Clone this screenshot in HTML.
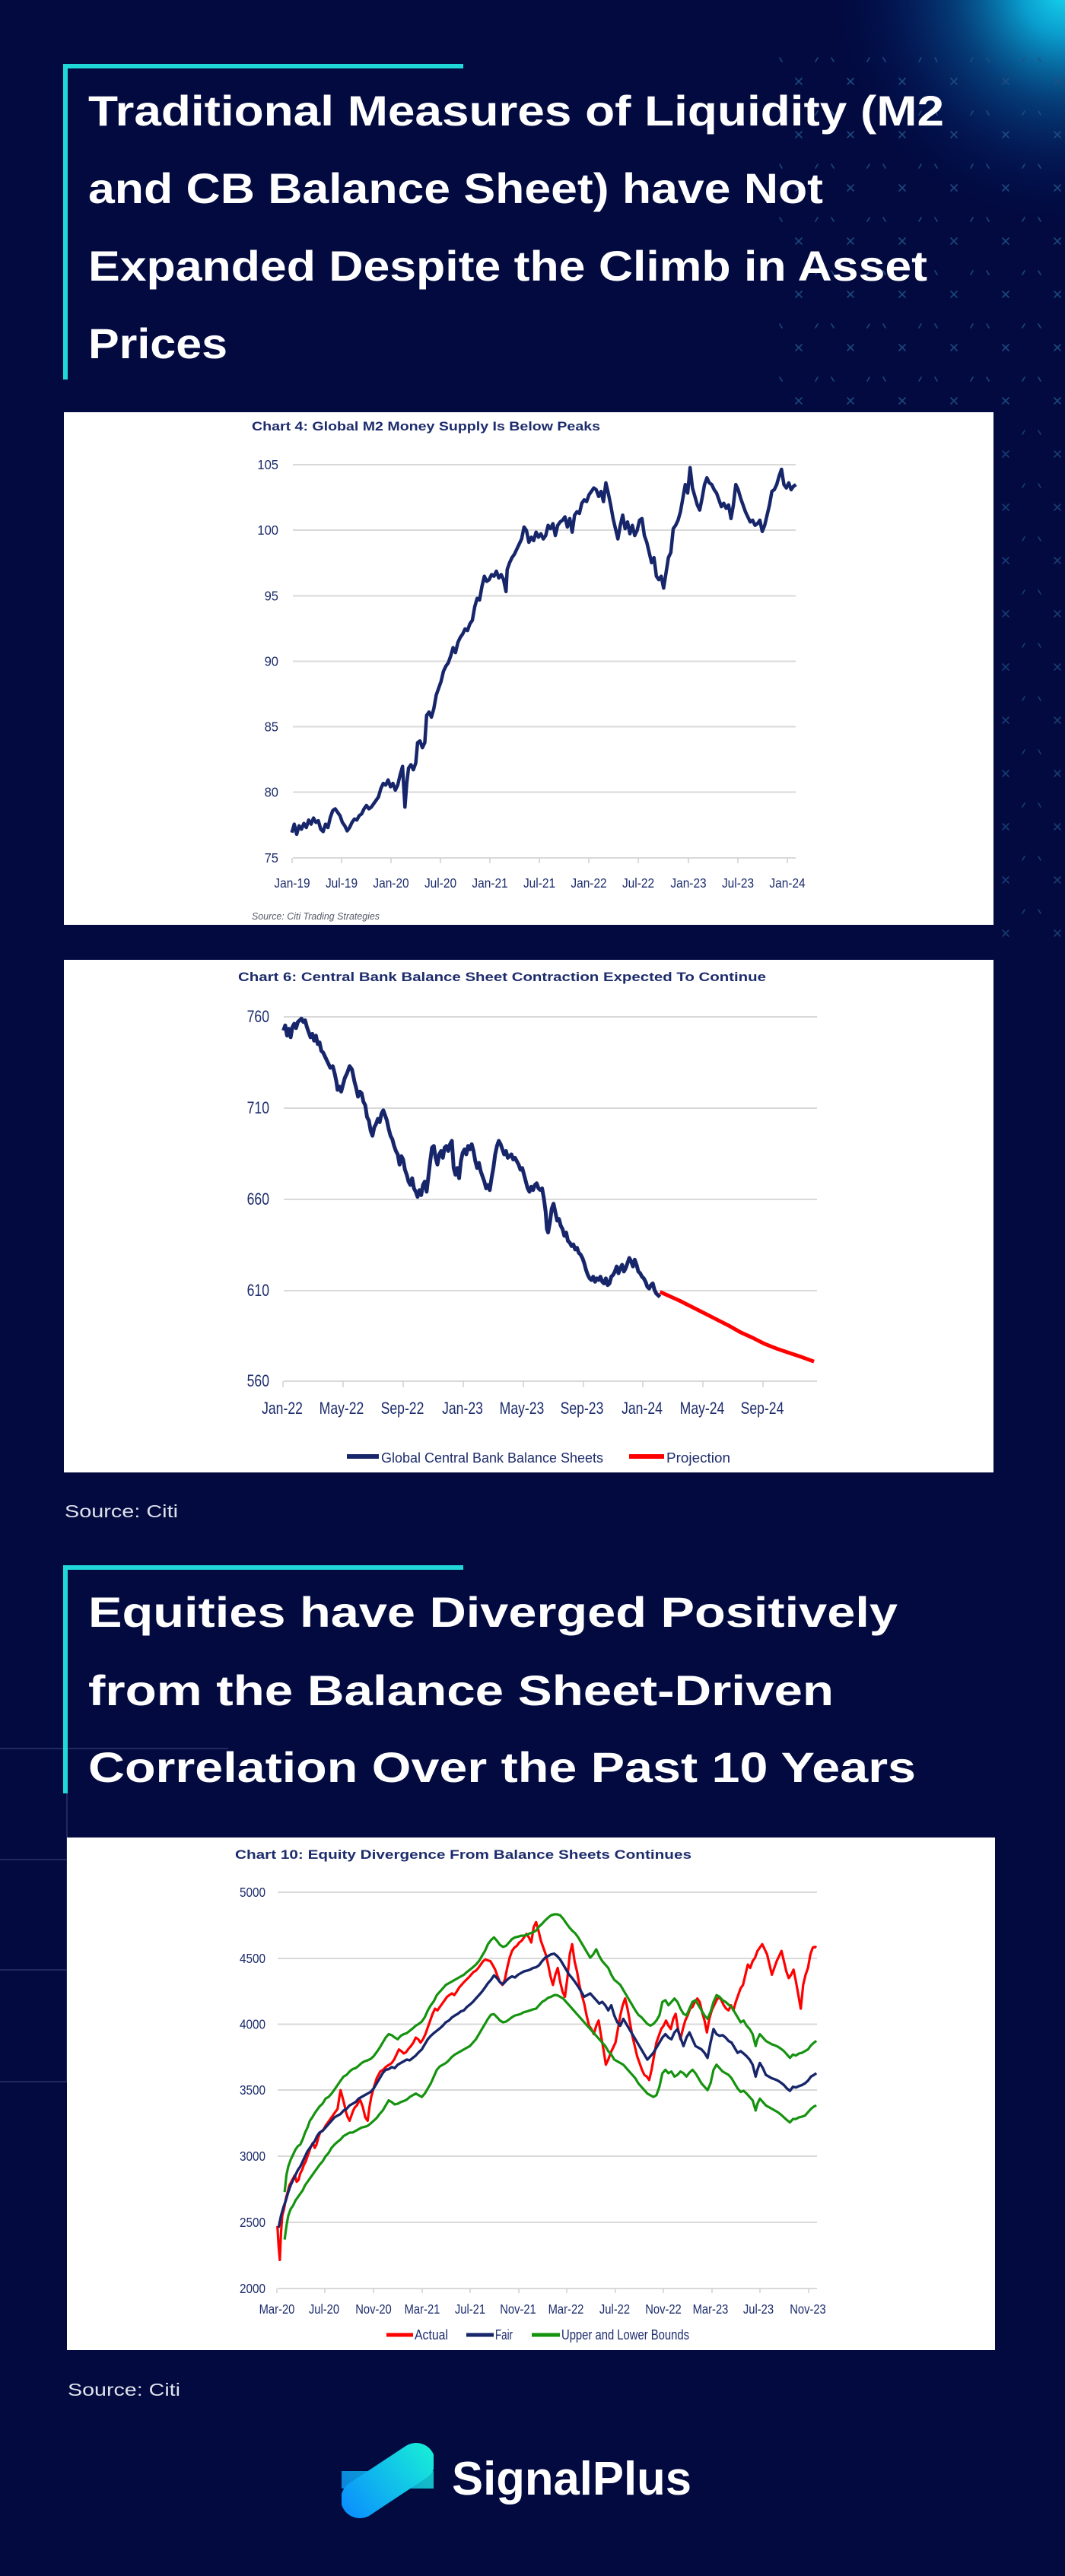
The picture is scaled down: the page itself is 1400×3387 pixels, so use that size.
<!DOCTYPE html>
<html>
<head>
<meta charset="utf-8">
<style>
html,body{margin:0;padding:0;background:#020a40;}
body{width:1400px;height:3387px;overflow:hidden;}
svg{display:block;}
.ttl{font-family:"Liberation Sans",sans-serif;font-weight:700;font-size:56px;fill:#ffffff;}
.ct{font-family:"Liberation Sans",sans-serif;font-weight:700;font-size:17px;fill:#1d2c6c;}
.ax{font-family:"Liberation Sans",sans-serif;font-size:18px;fill:#1d2c6c;}
.ax6{font-family:"Liberation Sans",sans-serif;font-size:22px;fill:#1d2c6c;}
.lg{font-family:"Liberation Sans",sans-serif;font-size:18px;fill:#1d2c6c;}
.src{font-family:"Liberation Sans",sans-serif;font-size:23px;fill:#dfe2ec;}
.grid{stroke:#d9d9d9;stroke-width:2;fill:none;}
.tick{stroke:#d0d0d0;stroke-width:1.5;}
</style>
</head>
<body>
<svg width="1400" height="3387" viewBox="0 0 1400 3387" xmlns="http://www.w3.org/2000/svg">
<defs>
  <radialGradient id="glow" cx="1400" cy="-10" r="320" gradientUnits="userSpaceOnUse">
    <stop offset="0" stop-color="#16d6f0" stop-opacity="1"/>
    <stop offset="0.18" stop-color="#0aa4d4" stop-opacity="0.95"/>
    <stop offset="0.45" stop-color="#07609e" stop-opacity="0.6"/>
    <stop offset="0.75" stop-color="#052a72" stop-opacity="0.25"/>
    <stop offset="1" stop-color="#020a40" stop-opacity="0"/>
  </radialGradient>
  <pattern id="pt" x="1016" y="72" width="68" height="70" patternUnits="userSpaceOnUse">
    <g stroke="#1f4f84" stroke-width="1.7" stroke-linecap="round" fill="none">
      <path d="M30,31 L38,39 M38,31 L30,39"/>
      <path d="M9,4 L12,9 M59,4 L56,9"/>
    </g>
  </pattern>
  <linearGradient id="lg1" x1="570" y1="3215" x2="449" y2="3306" gradientUnits="userSpaceOnUse">
    <stop offset="0" stop-color="#18f0d6"/>
    <stop offset="1" stop-color="#0a8cff"/>
  </linearGradient>
  <clipPath id="logoclip"><rect x="449" y="3205" width="121" height="110"/></clipPath>
</defs>

<!-- background -->
<rect x="0" y="0" width="1400" height="3387" fill="#020a40"/>
<rect x="950" y="0" width="450" height="420" fill="url(#glow)"/>
<rect x="1016" y="72" width="384" height="490" fill="url(#pt)" opacity="0.85"/>
<rect x="1308" y="562" width="92" height="680" fill="url(#pt)" opacity="0.7"/>

<!-- left faint grid lines -->
<g stroke="#2a3367" stroke-width="1.5">
  <line x1="0" y1="2299" x2="300" y2="2299"/>
  <line x1="0" y1="2445" x2="88" y2="2445"/>
  <line x1="0" y1="2590" x2="88" y2="2590"/>
  <line x1="0" y1="2737" x2="88" y2="2737"/>
  <line x1="88" y1="2358" x2="88" y2="2737"/>
</g>

<!-- Title 1 -->
<rect x="83" y="84" width="526" height="6" fill="#20d8d8"/>
<rect x="83" y="84" width="6" height="415" fill="#20d8d8"/>
<text class="ttl" x="116" y="165" textLength="1125" lengthAdjust="spacingAndGlyphs">Traditional Measures of Liquidity (M2</text>
<text class="ttl" x="116" y="267" textLength="966" lengthAdjust="spacingAndGlyphs">and CB Balance Sheet) have Not</text>
<text class="ttl" x="116" y="369" textLength="1103" lengthAdjust="spacingAndGlyphs">Expanded Despite the Climb in Asset</text>
<text class="ttl" x="116" y="471" textLength="183" lengthAdjust="spacingAndGlyphs">Prices</text>

<!-- ================= CHART 4 ================= -->
<rect x="84" y="542" width="1222" height="674" fill="#ffffff"/>
<text class="ct" x="331" y="566" textLength="458" lengthAdjust="spacingAndGlyphs">Chart 4: Global M2 Money Supply Is Below Peaks</text>
<g class="grid">
  <line x1="385" y1="611" x2="1046" y2="611"/>
  <line x1="385" y1="697" x2="1046" y2="697"/>
  <line x1="385" y1="783.5" x2="1046" y2="783.5"/>
  <line x1="385" y1="869.5" x2="1046" y2="869.5"/>
  <line x1="385" y1="955.5" x2="1046" y2="955.5"/>
  <line x1="385" y1="1041.5" x2="1046" y2="1041.5"/>
  <line x1="385" y1="1128" x2="1046" y2="1128"/>
</g>
<g class="tick">
  <line x1="384" y1="1128" x2="384" y2="1135"/><line x1="449" y1="1128" x2="449" y2="1135"/>
  <line x1="514" y1="1128" x2="514" y2="1135"/><line x1="579" y1="1128" x2="579" y2="1135"/>
  <line x1="644" y1="1128" x2="644" y2="1135"/><line x1="709" y1="1128" x2="709" y2="1135"/>
  <line x1="774" y1="1128" x2="774" y2="1135"/><line x1="839" y1="1128" x2="839" y2="1135"/>
  <line x1="905" y1="1128" x2="905" y2="1135"/><line x1="970" y1="1128" x2="970" y2="1135"/>
  <line x1="1035" y1="1128" x2="1035" y2="1135"/>
</g>
<g class="ax" text-anchor="end">
  <text transform="translate(366,617) scale(0.92,1)">105</text>
  <text transform="translate(366,703) scale(0.92,1)">100</text>
  <text transform="translate(366,789.5) scale(0.92,1)">95</text>
  <text transform="translate(366,875.5) scale(0.92,1)">90</text>
  <text transform="translate(366,961.5) scale(0.92,1)">85</text>
  <text transform="translate(366,1047.5) scale(0.92,1)">80</text>
  <text transform="translate(366,1134) scale(0.92,1)">75</text>
</g>
<g class="ax" text-anchor="middle">
  <text transform="translate(384,1167) scale(0.86,1)">Jan-19</text>
  <text transform="translate(449,1167) scale(0.86,1)">Jul-19</text>
  <text transform="translate(514,1167) scale(0.86,1)">Jan-20</text>
  <text transform="translate(579,1167) scale(0.86,1)">Jul-20</text>
  <text transform="translate(644,1167) scale(0.86,1)">Jan-21</text>
  <text transform="translate(709,1167) scale(0.86,1)">Jul-21</text>
  <text transform="translate(774,1167) scale(0.86,1)">Jan-22</text>
  <text transform="translate(839,1167) scale(0.86,1)">Jul-22</text>
  <text transform="translate(905,1167) scale(0.86,1)">Jan-23</text>
  <text transform="translate(970,1167) scale(0.86,1)">Jul-23</text>
  <text transform="translate(1035,1167) scale(0.86,1)">Jan-24</text>
</g>
<text x="331" y="1209" font-family="Liberation Sans, sans-serif" font-style="italic" font-size="13" fill="#555a66" textLength="168" lengthAdjust="spacingAndGlyphs">Source: Citi Trading Strategies</text>
<g transform="translate(80,530) scale(0.79077,0.44643)">
<path vector-effect="non-scaling-stroke" fill="none" stroke="#17266a" stroke-width="4.5" stroke-linejoin="round" d="M384,1265 L388,1240 392,1270 396,1245 400,1255 404,1238 408,1250 412,1228 416,1240 420,1222 424,1235 428,1230 432,1255 436,1262 440,1240 444,1250 448,1220 452,1200 456,1195 460,1205 464,1215 468,1235 472,1245 476,1260 480,1250 484,1235 488,1225 492,1228 496,1215 500,1210 504,1195 508,1185 512,1195 516,1190 520,1180 524,1170 528,1160 532,1135 536,1120 540,1125 544,1110 548,1130 552,1120 556,1140 560,1125 564,1095 568,1070 570,1130 572,1190 575,1120 578,1075 582,1065 586,1080 590,1060 593,1000 597,995 601,1015 605,1000 608,920 612,910 616,925 620,900 624,860 628,840 632,820 636,790 640,775 644,765 648,745 652,720 656,735 660,705 664,690 668,680 672,665 676,670 680,650 684,640 688,600 692,575 696,580 700,540 704,510 708,525 712,520 716,505 720,510 724,495 728,515 732,505 736,520 740,555 742,490 746,470 750,455 754,445 758,430 762,415 766,400 770,365 774,375 778,410 782,395 786,405 790,380 794,395 798,385 802,400 806,390 810,360 814,370 818,355 822,390 826,360 830,350 834,345 838,335 842,365 846,340 850,380 854,330 858,320 862,325 866,295 870,285 874,290 878,270 882,260 886,250 890,255 894,275 898,260 902,290 906,235 910,265 914,300 918,340 922,370 926,400 930,360 934,330 938,370 942,350 946,385 950,360 954,390 958,375 962,345 966,340 970,390 974,410 978,440 982,470 986,455 990,510 994,520 998,510 1002,545 1006,500 1010,455 1014,440 1018,370 1022,360 1026,345 1030,320 1034,280 1038,240 1042,265 1046,190 1050,250 1054,275 1058,300 1062,315 1066,280 1070,240 1074,220 1078,235 1082,240 1086,255 1090,265 1094,285 1098,305 1102,295 1106,310 1110,300 1114,340 1118,300 1122,240 1126,255 1130,280 1134,300 1138,320 1142,335 1146,350 1150,345 1154,360 1158,355 1162,345 1166,378 1170,360 1174,330 1178,300 1182,260 1186,255 1190,240 1194,215 1198,195 1202,240 1206,250 1210,235 1214,255 1218,245 1222,240"/>
</g>

<!-- ================= CHART 6 ================= -->
<rect x="84" y="1262" width="1222" height="674" fill="#ffffff"/>
<text class="ct" x="313" y="1290" textLength="694" lengthAdjust="spacingAndGlyphs">Chart 6: Central Bank Balance Sheet Contraction Expected To Continue</text>
<g class="grid">
  <line x1="373" y1="1337" x2="1074" y2="1337"/>
  <line x1="373" y1="1457" x2="1074" y2="1457"/>
  <line x1="373" y1="1577" x2="1074" y2="1577"/>
  <line x1="373" y1="1697" x2="1074" y2="1697"/>
  <line x1="373" y1="1816" x2="1074" y2="1816"/>
</g>
<g class="tick">
  <line x1="372" y1="1816" x2="372" y2="1824"/><line x1="451" y1="1816" x2="451" y2="1824"/>
  <line x1="530" y1="1816" x2="530" y2="1824"/><line x1="609" y1="1816" x2="609" y2="1824"/>
  <line x1="688" y1="1816" x2="688" y2="1824"/><line x1="767" y1="1816" x2="767" y2="1824"/>
  <line x1="845" y1="1816" x2="845" y2="1824"/><line x1="924" y1="1816" x2="924" y2="1824"/>
  <line x1="1003" y1="1816" x2="1003" y2="1824"/>
</g>
<g class="ax6" text-anchor="end">
  <text transform="translate(354,1344) scale(0.8,1)">760</text>
  <text transform="translate(354,1464) scale(0.8,1)">710</text>
  <text transform="translate(354,1584) scale(0.8,1)">660</text>
  <text transform="translate(354,1704) scale(0.8,1)">610</text>
  <text transform="translate(354,1823) scale(0.8,1)">560</text>
</g>
<g class="ax6" text-anchor="middle">
  <text transform="translate(371,1859) scale(0.8,1)">Jan-22</text>
  <text transform="translate(449,1859) scale(0.8,1)">May-22</text>
  <text transform="translate(529,1859) scale(0.8,1)">Sep-22</text>
  <text transform="translate(608,1859) scale(0.8,1)">Jan-23</text>
  <text transform="translate(686,1859) scale(0.8,1)">May-23</text>
  <text transform="translate(765,1859) scale(0.8,1)">Sep-23</text>
  <text transform="translate(844,1859) scale(0.8,1)">Jan-24</text>
  <text transform="translate(923,1859) scale(0.8,1)">May-24</text>
  <text transform="translate(1002,1859) scale(0.8,1)">Sep-24</text>
</g>
<g transform="translate(80,1250) scale(0.79077,0.44643)">
<path vector-effect="non-scaling-stroke" fill="none" stroke="#ff0000" stroke-width="5" stroke-linejoin="round" d="M996,1005 L1010,1016 1030,1032 1050,1050 1070,1068 1090,1086 1110,1104 1130,1124 1150,1140 1170,1158 1190,1172 1210,1184 1230,1196 1252,1210"/>
<path vector-effect="non-scaling-stroke" fill="none" stroke="#17266a" stroke-width="5" stroke-linejoin="round" d="M370,235 L373,220 376,250 379,230 382,255 385,225 388,215 391,228 394,210 397,205 400,200 403,210 406,205 409,225 412,240 415,255 418,245 421,265 424,250 427,275 430,270 433,295 436,300 440,315 444,330 448,345 452,340 455,360 458,385 460,410 463,400 466,415 469,395 472,375 476,360 480,340 484,350 488,385 491,405 494,430 497,415 500,420 503,445 506,455 509,490 512,500 515,530 518,545 521,520 524,510 527,495 530,505 533,480 536,470 539,485 542,500 545,525 548,545 551,555 554,575 557,590 560,600 563,630 566,605 569,615 572,645 575,660 578,680 581,690 584,670 587,700 590,710 593,725 596,705 599,720 602,690 605,680 608,710 611,665 614,620 617,580 620,575 623,610 626,630 629,600 632,590 635,610 638,580 641,575 644,590 647,570 650,560 653,640 656,660 659,640 662,670 665,620 668,595 671,585 674,600 677,575 680,585 683,570 686,590 689,620 692,640 695,625 698,650 701,665 704,680 707,700 710,690 713,705 716,670 719,640 722,600 725,575 728,560 731,570 734,585 737,600 740,590 743,610 746,605 749,600 752,615 755,610 758,620 761,630 764,645 767,640 770,660 773,680 776,700 779,710 782,695 785,705 788,690 791,685 794,700 797,705 800,700 803,730 806,770 808,820 810,830 813,800 816,760 819,745 822,770 825,795 828,790 831,810 834,820 837,840 840,830 843,855 846,860 849,870 852,865 855,880 858,875 861,890 864,895 867,905 870,920 873,940 876,955 879,965 882,970 885,960 888,975 891,965 894,970 897,960 900,975 903,980 906,965 909,985 912,980 915,960 918,955 921,945 924,930 927,950 930,935 933,925 936,945 939,935 942,920 945,905 948,915 951,930 954,910 957,925 960,945 963,950 966,960 969,965 972,975 975,990 978,995 981,985 984,980 987,1000 990,1010 993,1015 996,1020"/>
</g>
<line x1="456" y1="1915" x2="498" y2="1915" stroke="#17266a" stroke-width="6"/>
<text class="lg" x="501" y="1923" font-size="24" textLength="292" lengthAdjust="spacingAndGlyphs">Global Central Bank Balance Sheets</text>
<line x1="827" y1="1915" x2="873" y2="1915" stroke="#ff0000" stroke-width="6"/>
<text class="lg" x="876" y="1923" font-size="24" textLength="84" lengthAdjust="spacingAndGlyphs">Projection</text>

<text class="src" x="85" y="1995" textLength="149" lengthAdjust="spacingAndGlyphs">Source: Citi</text>

<!-- Title 2 -->
<rect x="83" y="2058" width="526" height="6" fill="#20d8d8"/>
<rect x="83" y="2058" width="6" height="300" fill="#20d8d8"/>
<text class="ttl" x="116" y="2139" textLength="1064" lengthAdjust="spacingAndGlyphs">Equities have Diverged Positively</text>
<text class="ttl" x="116" y="2242" textLength="980" lengthAdjust="spacingAndGlyphs">from the Balance Sheet-Driven</text>
<text class="ttl" x="116" y="2343" textLength="1088" lengthAdjust="spacingAndGlyphs">Correlation Over the Past 10 Years</text>

<!-- ================= CHART 10 ================= -->
<rect x="88" y="2416" width="1220" height="674" fill="#ffffff"/>
<text class="ct" x="309" y="2444" textLength="600" lengthAdjust="spacingAndGlyphs">Chart 10: Equity Divergence From Balance Sheets Continues</text>
<g class="grid">
  <line x1="365" y1="2488" x2="1074" y2="2488"/>
  <line x1="365" y1="2575" x2="1074" y2="2575"/>
  <line x1="365" y1="2661.5" x2="1074" y2="2661.5"/>
  <line x1="365" y1="2748" x2="1074" y2="2748"/>
  <line x1="365" y1="2835" x2="1074" y2="2835"/>
  <line x1="365" y1="2922" x2="1074" y2="2922"/>
  <line x1="365" y1="3009" x2="1074" y2="3009"/>
</g>
<g class="tick">
  <line x1="364" y1="3009" x2="364" y2="3015"/><line x1="427" y1="3009" x2="427" y2="3015"/>
  <line x1="491" y1="3009" x2="491" y2="3015"/><line x1="555" y1="3009" x2="555" y2="3015"/>
  <line x1="618" y1="3009" x2="618" y2="3015"/><line x1="682" y1="3009" x2="682" y2="3015"/>
  <line x1="745" y1="3009" x2="745" y2="3015"/><line x1="809" y1="3009" x2="809" y2="3015"/>
  <line x1="872" y1="3009" x2="872" y2="3015"/><line x1="936" y1="3009" x2="936" y2="3015"/>
  <line x1="999" y1="3009" x2="999" y2="3015"/><line x1="1063" y1="3009" x2="1063" y2="3015"/>
</g>
<g class="ax" text-anchor="end">
  <text transform="translate(349,2494) scale(0.85,1)">5000</text>
  <text transform="translate(349,2581) scale(0.85,1)">4500</text>
  <text transform="translate(349,2667.5) scale(0.85,1)">4000</text>
  <text transform="translate(349,2754) scale(0.85,1)">3500</text>
  <text transform="translate(349,2841) scale(0.85,1)">3000</text>
  <text transform="translate(349,2928) scale(0.85,1)">2500</text>
  <text transform="translate(349,3015) scale(0.85,1)">2000</text>
</g>
<g class="ax" text-anchor="middle">
  <text transform="translate(364,3042) scale(0.82,1)">Mar-20</text>
  <text transform="translate(426,3042) scale(0.82,1)">Jul-20</text>
  <text transform="translate(491,3042) scale(0.82,1)">Nov-20</text>
  <text transform="translate(555,3042) scale(0.82,1)">Mar-21</text>
  <text transform="translate(618,3042) scale(0.82,1)">Jul-21</text>
  <text transform="translate(681,3042) scale(0.82,1)">Nov-21</text>
  <text transform="translate(744,3042) scale(0.82,1)">Mar-22</text>
  <text transform="translate(808,3042) scale(0.82,1)">Jul-22</text>
  <text transform="translate(872,3042) scale(0.82,1)">Nov-22</text>
  <text transform="translate(934,3042) scale(0.82,1)">Mar-23</text>
  <text transform="translate(997,3042) scale(0.82,1)">Jul-23</text>
  <text transform="translate(1062,3042) scale(0.82,1)">Nov-23</text>
</g>
<g transform="translate(80,2400) scale(0.79077,0.44643)" fill="none" stroke-linejoin="round">
<path vector-effect="non-scaling-stroke" stroke="#ff0000" stroke-width="3.2" d="M360,1180 L362,1240 364,1280 366,1200 368,1150 371,1130 374,1100 377,1080 380,1060 383,1050 386,1040 389,1030 392,1050 395,1045 398,1025 401,1015 404,1000 407,990 410,975 413,960 416,945 419,935 422,950 425,940 428,920 431,905 434,900 437,895 440,885 444,875 448,865 452,855 456,845 460,835 463,800 465,780 468,800 471,820 474,845 477,860 480,870 483,855 486,840 489,830 492,825 495,815 498,810 502,830 506,860 510,870 513,830 516,800 519,780 522,762 525,745 528,735 531,725 534,722 537,718 540,712 543,708 546,705 550,700 554,690 558,675 562,660 566,665 570,672 574,668 578,658 582,650 586,640 590,625 594,630 598,640 602,630 606,615 610,595 614,575 618,555 622,540 626,545 630,535 634,525 638,515 642,505 646,500 650,495 654,500 658,490 662,478 666,470 670,462 674,455 678,448 682,440 686,432 690,428 694,420 698,410 702,400 706,395 710,398 714,400 718,412 722,425 726,445 730,462 734,470 738,455 742,420 746,390 750,370 754,360 758,355 762,345 766,340 770,330 774,320 778,330 782,345 786,300 790,285 794,310 798,340 802,360 806,380 810,410 814,445 818,470 822,440 826,420 830,460 834,490 838,505 842,450 846,380 850,350 854,400 858,430 862,470 866,500 870,525 874,560 878,590 882,600 886,615 890,590 894,575 898,620 902,660 906,705 910,690 914,670 918,655 922,640 926,600 930,560 934,530 938,510 942,540 946,580 950,620 954,650 958,680 962,700 966,720 970,735 974,740 978,750 982,720 986,680 990,640 994,620 998,600 1002,590 1006,575 1010,590 1014,600 1018,570 1022,555 1026,600 1030,630 1034,600 1038,575 1042,560 1046,540 1050,535 1054,520 1058,510 1062,520 1066,550 1070,575 1074,610 1078,570 1082,545 1086,530 1090,515 1094,505 1098,515 1102,530 1106,540 1110,545 1114,530 1118,545 1122,520 1126,500 1130,480 1134,470 1138,440 1142,410 1146,420 1150,400 1154,390 1158,370 1162,360 1166,350 1170,365 1174,380 1178,410 1182,440 1186,420 1190,400 1194,385 1198,370 1202,400 1206,430 1210,450 1214,440 1218,425 1222,460 1226,500 1230,540 1234,470 1238,440 1242,420 1246,380 1250,360 1254,358 1256,360"/>
<path vector-effect="non-scaling-stroke" stroke="#15930f" stroke-width="3.2" d="M372,1080 L375,1030 378,1005 382,985 386,970 390,955 394,945 398,940 402,925 406,905 410,890 414,870 418,860 422,848 426,838 430,828 435,820 440,805 445,800 450,790 455,778 460,765 465,752 470,740 475,735 480,725 485,718 490,715 495,708 500,700 505,695 510,692 515,688 520,680 525,668 530,655 535,640 540,625 545,615 550,618 555,625 560,630 565,620 570,615 575,612 580,605 585,598 590,590 595,585 600,578 605,565 610,545 615,530 620,518 625,500 630,490 635,480 640,470 645,465 650,460 655,455 660,450 665,445 670,440 675,432 680,425 685,418 690,410 695,400 700,385 705,370 710,350 715,338 720,330 725,340 730,352 735,358 740,355 745,345 750,335 755,330 760,328 765,325 770,325 775,322 780,318 785,315 790,310 795,298 800,290 805,280 810,272 815,265 820,262 825,262 830,265 835,275 840,288 845,300 850,310 855,318 860,330 865,345 870,360 875,375 880,390 885,380 890,365 895,385 900,400 905,410 910,420 915,440 920,455 925,462 930,470 935,485 940,500 945,515 950,530 955,545 960,558 965,565 970,575 975,585 980,590 985,585 990,575 995,560 1000,520 1005,515 1010,530 1015,520 1020,510 1025,520 1030,540 1035,555 1040,560 1045,540 1050,520 1055,515 1060,530 1065,545 1070,560 1075,570 1080,550 1085,520 1090,500 1095,505 1100,515 1105,520 1110,528 1115,535 1120,550 1125,565 1130,580 1135,575 1140,590 1145,600 1150,615 1155,650 1158,630 1162,615 1167,625 1172,635 1177,640 1182,645 1187,648 1192,652 1197,658 1202,665 1207,675 1212,685 1217,675 1222,678 1227,672 1232,670 1237,665 1242,660 1247,648 1252,640 1256,635"/>
<path vector-effect="non-scaling-stroke" stroke="#15930f" stroke-width="3.2" d="M372,1220 L375,1180 378,1150 382,1130 386,1120 390,1105 394,1095 398,1085 402,1075 406,1060 410,1050 414,1040 418,1030 422,1020 426,1010 430,1000 435,990 440,975 445,965 450,950 455,940 460,932 465,925 470,915 475,910 480,905 485,905 490,900 495,895 500,890 505,888 510,885 515,878 520,870 525,862 530,850 535,840 540,825 545,810 550,815 555,822 560,820 565,815 570,812 575,808 580,800 585,795 590,790 595,795 600,800 605,790 610,775 615,760 620,740 625,720 630,710 635,705 640,700 645,692 650,682 655,675 660,670 665,665 670,660 675,655 680,650 685,640 690,630 695,615 700,600 705,585 710,570 715,558 720,556 725,565 730,575 735,580 740,578 745,572 750,565 755,560 760,558 765,555 770,550 775,548 780,545 785,542 790,540 795,530 800,520 805,515 810,508 815,505 820,500 825,500 830,505 835,510 840,520 845,530 850,540 855,550 860,560 865,570 870,580 875,590 880,600 885,610 890,620 895,630 900,640 905,650 910,665 915,675 920,690 925,695 930,700 935,705 940,715 945,725 950,735 955,745 960,760 965,770 970,780 975,790 980,795 985,800 990,795 995,770 1000,730 1005,720 1010,730 1015,725 1020,740 1025,735 1030,725 1035,730 1040,740 1045,728 1050,720 1055,730 1060,745 1065,760 1070,770 1075,780 1080,760 1085,720 1090,705 1095,715 1100,725 1105,730 1110,735 1115,745 1120,760 1125,775 1130,785 1135,782 1140,790 1145,800 1150,810 1155,840 1158,820 1162,805 1167,815 1172,825 1177,830 1182,835 1187,840 1192,845 1197,852 1202,860 1207,868 1212,875 1217,865 1222,865 1227,860 1232,858 1237,855 1242,845 1247,835 1252,828 1256,825"/>
<path vector-effect="non-scaling-stroke" stroke="#17266a" stroke-width="3.4" d="M362,1185 L366,1150 370,1125 374,1105 378,1080 382,1060 386,1045 390,1030 394,1015 398,1005 402,990 406,975 410,960 414,950 418,940 422,930 426,915 430,905 435,900 440,890 445,880 450,870 455,860 460,855 465,850 470,840 475,835 480,825 485,820 490,815 495,805 500,800 505,795 510,790 515,785 520,775 525,760 530,745 535,730 540,720 545,718 550,712 555,715 560,705 565,700 570,695 575,690 580,692 585,685 590,678 595,668 600,660 605,645 610,630 615,620 620,612 625,605 630,598 635,590 640,580 645,575 650,566 655,560 660,555 665,548 670,545 675,535 680,528 685,520 690,510 695,500 700,490 705,478 710,465 715,455 720,442 725,450 730,462 735,468 740,458 745,450 750,445 755,448 760,440 765,435 770,430 775,428 780,425 785,420 790,418 795,412 800,400 805,390 810,385 815,380 820,378 825,385 830,395 835,410 840,425 845,440 850,450 855,462 860,475 865,490 870,505 875,500 880,495 885,505 890,515 895,525 900,520 905,530 910,545 915,530 920,560 925,580 930,590 935,570 940,585 945,600 950,615 955,630 960,645 965,660 970,675 975,690 980,680 985,670 990,655 995,640 1000,625 1005,615 1010,625 1015,630 1020,610 1025,600 1030,625 1035,650 1040,625 1045,610 1050,630 1055,650 1060,655 1065,660 1070,670 1075,685 1080,640 1085,600 1090,615 1095,620 1100,618 1105,625 1110,635 1115,640 1120,655 1125,670 1130,665 1135,672 1140,680 1145,690 1150,705 1155,740 1158,720 1162,700 1167,715 1172,735 1177,740 1182,745 1187,748 1192,752 1197,758 1202,765 1207,775 1212,782 1217,770 1222,772 1227,768 1232,765 1237,760 1242,752 1247,740 1252,735 1256,730"/>
</g>
<line x1="508" y1="3070" x2="543" y2="3070" stroke="#ff0000" stroke-width="5"/>
<text class="lg" x="545" y="3076" textLength="44" lengthAdjust="spacingAndGlyphs">Actual</text>
<line x1="613" y1="3070" x2="649" y2="3070" stroke="#17266a" stroke-width="5"/>
<text class="lg" x="651" y="3076" textLength="23" lengthAdjust="spacingAndGlyphs">Fair</text>
<line x1="699" y1="3070" x2="736" y2="3070" stroke="#15930f" stroke-width="5"/>
<text class="lg" x="738" y="3076" textLength="168" lengthAdjust="spacingAndGlyphs">Upper and Lower Bounds</text>

<text class="src" x="89" y="3150" textLength="148" lengthAdjust="spacingAndGlyphs">Source: Citi</text>

<!-- Logo -->
<g clip-path="url(#logoclip)">
  <line x1="547" y1="3237" x2="473" y2="3286" stroke="url(#lg1)" stroke-width="50" stroke-linecap="round"/>
  <rect x="449" y="3249" width="121" height="23" fill="url(#lg1)" opacity="0.85"/>
</g>
<text x="594" y="3280" font-family="Liberation Sans, sans-serif" font-weight="700" font-size="62" fill="#ffffff" textLength="315" lengthAdjust="spacingAndGlyphs">SignalPlus</text>
</svg>
</body>
</html>
